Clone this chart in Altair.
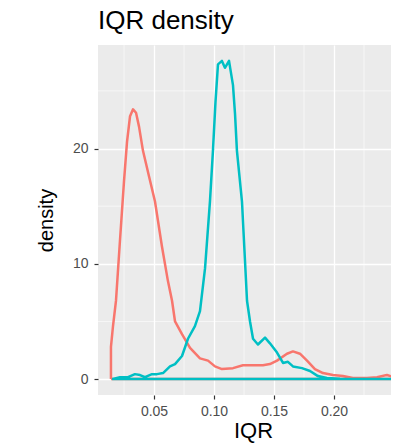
import altair as alt
import pandas as pd

# ---- data ----
red_x = [0.0141, 0.0141, 0.0158, 0.0183, 0.0216, 0.0250, 0.0275, 0.0300, 0.0325, 0.0350, 0.0375,
         0.0408, 0.0458, 0.0508, 0.0566, 0.0616, 0.0650, 0.0675, 0.0733, 0.0800, 0.0883,
         0.0950, 0.1008, 0.1066, 0.1158, 0.1241, 0.1325, 0.1408, 0.1466, 0.1525, 0.1608,
         0.1658, 0.1716, 0.1775, 0.1841, 0.1908, 0.1991, 0.2075, 0.2158, 0.2275, 0.2358,
         0.2441, 0.2500, 0.2500, 0.0141]
red_y = [0.0, 2.8, 4.6, 6.8, 12.0, 17.2, 20.6, 22.8, 23.4, 23.1, 21.9,
         19.8, 17.6, 15.4, 11.5, 8.5, 6.8, 5.0, 3.9, 2.7, 1.8,
         1.6, 1.1, 0.87, 0.95, 1.2, 1.2, 1.2, 1.3, 1.6, 2.2,
         2.4, 2.2, 1.6, 0.87, 0.52, 0.35, 0.26, 0.09, 0.09, 0.17,
         0.35, 0.17, 0.0, 0.0]

teal_x = [0.0150, 0.0216, 0.0283, 0.0341, 0.0383, 0.0425, 0.0483, 0.0525, 0.0575, 0.0633,
          0.0675, 0.0733, 0.0783, 0.0841, 0.0883, 0.0925, 0.0966, 0.0991, 0.1012, 0.1033,
          0.1066, 0.1091, 0.1125, 0.1158, 0.1175, 0.1191, 0.1233, 0.1275, 0.1300, 0.1325,
          0.1366, 0.1425, 0.1466, 0.1525, 0.1575, 0.1616, 0.1658, 0.1733, 0.1800, 0.1866,
          0.1941, 0.2050, 0.2500, 0.0150]
teal_y = [0.0, 0.17, 0.17, 0.43, 0.35, 0.17, 0.43, 0.43, 0.52, 1.1,
          1.3, 2.0, 3.5, 4.6, 5.9, 9.6, 15.4, 19.8, 24.0, 27.3,
          27.6, 27.0, 27.6, 25.5, 23.0, 19.8, 15.4, 6.8, 5.0, 3.5,
          3.0, 3.6, 3.1, 2.3, 1.4, 1.5, 1.1, 0.95, 0.7, 0.26,
          0.09, 0.03, 0.0, 0.0]

groups = ["group 1", "group 2"]
colors = ["#F8766D", "#00BFC4"]

x_major = [0.05, 0.10, 0.15, 0.20]
x_minor = [0.025, 0.075, 0.125, 0.175, 0.225]
y_major = [0, 10, 20]
y_minor = [5, 15, 25]

rows = []
for g, xs, ys in [(groups[0], red_x, red_y), (groups[1], teal_x, teal_y)]:
    for i, (a, b) in enumerate(zip(xs, ys)):
        rows.append({"IQR": a, "density": b, "group": g, "order": i})
df = pd.DataFrame(rows)

x_scale = alt.Scale(domain=[0.0033, 0.2475], nice=False, zero=False)
y_scale = alt.Scale(domain=[-1.38, 28.98], nice=False, zero=False)

FONT = "Liberation Sans"

x_axis = alt.Axis(values=x_major, format=".2f", grid=True, gridColor="white",
                  gridWidth=1.3, domain=False, tickColor="#333333", tickSize=4,
                  tickWidth=1.2, labelColor="#4D4D4D", labelFontSize=14,
                  labelFont=FONT, labelPadding=5, titleFont=FONT,
                  titleFontSize=22, titleFontWeight="normal", titleColor="black",
                  titlePadding=2, titleX=155)
y_axis = alt.Axis(values=y_major, format="d", grid=True, gridColor="white",
                  gridWidth=1.3, domain=False, tickColor="#333333", tickSize=4,
                  tickWidth=1.2, labelColor="#4D4D4D", labelFontSize=14,
                  labelFont=FONT, labelPadding=6, titleFont=FONT,
                  titleFontSize=20, titleFontWeight="normal", titleColor="black",
                  titlePadding=16)

vminor = alt.Chart(pd.DataFrame({"IQR": x_minor})).mark_rule(
    color="white", strokeWidth=0.6
).encode(x=alt.X("IQR:Q", scale=x_scale, title="IQR", axis=x_axis))

hminor = alt.Chart(pd.DataFrame({"density": y_minor})).mark_rule(
    color="white", strokeWidth=0.6
).encode(y=alt.Y("density:Q", scale=y_scale, title="density", axis=y_axis))

lines = alt.Chart(df).mark_line(strokeWidth=2.5, strokeJoin="round", clip=True).encode(
    x=alt.X("IQR:Q", scale=x_scale, title="IQR", axis=x_axis),
    y=alt.Y("density:Q", scale=y_scale, title="density", axis=y_axis),
    color=alt.Color("group:N", scale=alt.Scale(domain=groups, range=colors), legend=None),
    order=alt.Order("order:Q"),
)

chart = alt.layer(vminor, hminor, lines).properties(
    width=293,
    height=350,
    title=alt.TitleParams("IQR density", anchor="start", frame="group", font=FONT,
                          fontSize=26, fontWeight="normal", color="black", offset=11),
    autosize=alt.AutoSizeParams(type="none"),
    padding={"left": 90, "top": 37, "right": 0, "bottom": 48},
    background="white",
).configure_view(fill="#EBEBEB", stroke=None)

chart.save("out.html", embed_options={"renderer": "svg", "actions": False})
